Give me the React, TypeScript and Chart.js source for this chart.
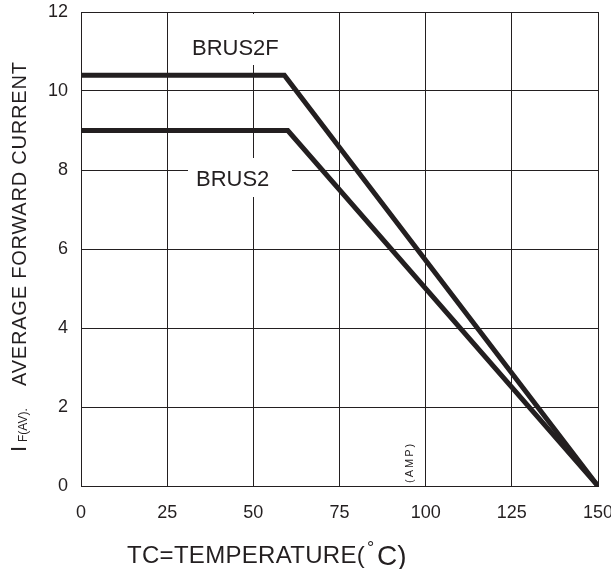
import React, { useEffect, useRef } from "react";
import { Chart, registerables } from "chart.js";

Chart.register(...registerables);

const temperatures = [0, 59, 150];
const brus2fCurrent = [10.4, 10.4, 0];
const brus2Temperatures = [0, 60, 150];
const brus2Current = [9, 9, 0];
const xTicks = [0, 25, 50, 75, 100, 125, 150];
const yTicks = [0, 2, 4, 6, 8, 10, 12];
const seriesNames = ["BRUS2F", "BRUS2"];

const INK = "#231f20";
const FONT = "'Liberation Sans', Arial, sans-serif";

const annotations = {
  id: "annotations",
  beforeDatasetsDraw(chart: any) {
    const ctx = chart.ctx;
    ctx.save();
    ctx.fillStyle = "#ffffff";
    ctx.fillRect(184, 14, 102, 51);
    ctx.fillRect(188, 158, 104, 39);
    ctx.fillStyle = INK;
    ctx.font = `22px ${FONT}`;
    ctx.textBaseline = "alphabetic";
    ctx.textAlign = "left";
    ctx.fillText(seriesNames[0], 192, 55);
    ctx.fillText(seriesNames[1], 196, 186);
    ctx.restore();
  },
  afterDraw(chart: any) {
    const ctx = chart.ctx;
    ctx.save();
    ctx.fillStyle = INK;
    ctx.textBaseline = "alphabetic";
    ctx.textAlign = "left";
    // y title
    ctx.save();
    ctx.translate(26, 452);
    ctx.rotate(-Math.PI / 2);
    ctx.font = `22px ${FONT}`;
    ctx.fillText("I", 0, 0);
    ctx.font = `12px ${FONT}`;
    ctx.fillText("F(AV).", 10, 1);
    ctx.font = `20px ${FONT}`;
    (ctx as any).letterSpacing = "0.8px";
    ctx.fillText("AVERAGE FORWARD CURRENT", 66, 0);
    ctx.restore();
    // (AMP)
    ctx.save();
    ctx.translate(413, 483);
    ctx.rotate(-Math.PI / 2);
    ctx.font = `11px ${FONT}`;
    (ctx as any).letterSpacing = "2px";
    ctx.fillText("(AMP)", 0, 0);
    ctx.restore();
    // x title
    ctx.font = `24px ${FONT}`;
    (ctx as any).letterSpacing = "0.3px";
    ctx.fillText("TC=TEMPERATURE(", 127, 563);
    (ctx as any).letterSpacing = "0px";
    ctx.font = `18px ${FONT}`;
    ctx.fillText("°", 367, 554);
    ctx.font = `28px ${FONT}`;
    ctx.fillText("C)", 377, 565);
    ctx.restore();
  },
};

export default function App() {
  const ref = useRef<HTMLCanvasElement>(null);
  useEffect(() => {
    if (!ref.current) return;
    const chart = new Chart(ref.current, {
      type: "line",
      data: {
        datasets: [
          {
            label: seriesNames[0],
            data: temperatures.map((t, i) => ({ x: t, y: brus2fCurrent[i] })),
            borderColor: INK,
            borderWidth: 5,
            pointRadius: 0,
            borderJoinStyle: "miter",
            tension: 0,
          },
          {
            label: seriesNames[1],
            data: brus2Temperatures.map((t, i) => ({ x: t, y: brus2Current[i] })),
            borderColor: INK,
            borderWidth: 5,
            pointRadius: 0,
            borderJoinStyle: "miter",
            tension: 0,
          },
        ],
      },
      options: {
        animation: false,
        responsive: false,
        layout: { padding: { top: 12, right: 13, left: 0, bottom: 0 } },
        plugins: { legend: { display: false }, tooltip: { enabled: false } },
        scales: {
          x: {
            type: "linear",
            min: xTicks[0],
            max: xTicks[xTicks.length - 1],
            afterFit: (s: any) => {
              s.height = 83;
              s.paddingLeft = 0;
              s.paddingRight = 0;
            },
            afterBuildTicks: (s: any) => {
              s.ticks = xTicks.map((v) => ({ value: v }));
            },
            ticks: {
              color: INK,
              font: { family: FONT, size: 18 },
              padding: 16,
              maxRotation: 0,
            },
            grid: { color: INK, lineWidth: 1, drawTicks: false },
            border: { color: INK, width: 1 },
          },
          y: {
            type: "linear",
            min: yTicks[0],
            max: yTicks[yTicks.length - 1],
            afterFit: (s: any) => {
              s.width = 81;
              s.paddingTop = 0;
              s.paddingBottom = 0;
            },
            afterBuildTicks: (s: any) => {
              s.ticks = yTicks.map((v) => ({ value: v }));
            },
            ticks: {
              color: INK,
              font: { family: FONT, size: 18 },
              padding: 13,
            },
            grid: { color: INK, lineWidth: 1, drawTicks: false },
            border: { color: INK, width: 1 },
          },
        },
      },
      plugins: [annotations],
    });
    return () => chart.destroy();
  }, []);
  return (
    <div style={{ position: "absolute", left: 0, top: 0, width: 611, height: 569, background: "#fff" }}>
      <canvas ref={ref} width={611} height={569} />
    </div>
  );
}
